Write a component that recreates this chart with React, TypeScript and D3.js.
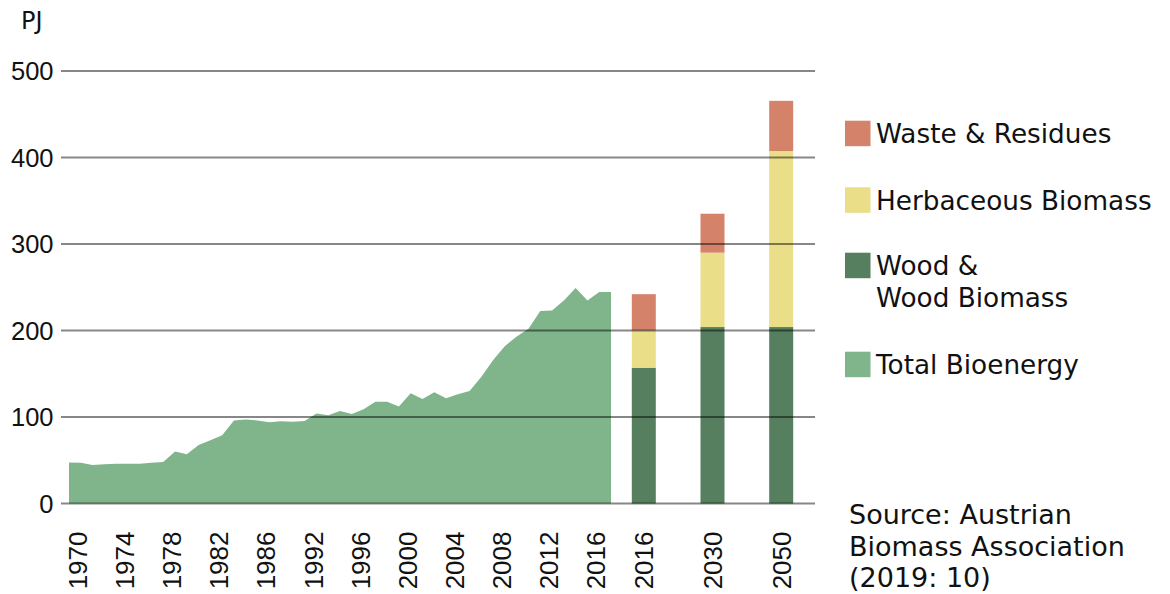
import * as d3 from "d3";

// Total bioenergy, one value per year shown on the area (PJ)
const totalBioenergy = [
  47.5, 47, 44.5, 45.5, 46, 46, 46, 47, 48, 60, 57, 67.5, 73, 79, 96, 97, 96,
  94, 95, 94.5, 95.5, 104, 102, 107, 103.6, 109, 117.5, 117.5, 112, 127.5,
  120.7, 128.7, 121.8, 126.4, 130, 146.6, 166, 182, 193, 202, 222.6, 223,
  234.6, 249, 234.6, 244.6, 244.6,
];

// axis labels under the area, one every 4th point
const areaTickLabels = [
  "1970", "1974", "1978", "1982", "1986", "1992",
  "1996", "2000", "2004", "2008", "2012", "2016",
];

// stacked scenario bars
const barYears = ["2016", "2030", "2050"];
const wood = [157, 204, 204];
const herbaceous = [43, 86, 203.5];
const waste = [42, 45, 58];

const yTicks = [0, 100, 200, 300, 400, 500];

const legendItems = [
  { label: ["Waste & Residues"], color: "#d4836a" },
  { label: ["Herbaceous Biomass"], color: "#eade88" },
  { label: ["Wood &", "Wood Biomass"], color: "#557f5e" },
  { label: ["Total Bioenergy"], color: "#80b48a" },
];

const COLORS = {
  total: "#80b48a",
  wood: "#557f5e",
  herb: "#eade88",
  waste: "#d4836a",
};

const App = () => {
  const width = 1170;
  const height = 594;
  const axisFont = "'Liberation Sans', Arial, sans-serif";
  const textFont = "'DejaVu Sans', sans-serif";

  const y = d3.scaleLinear().domain([0, 500]).range([503.5, 71]);
  const x = d3
    .scaleLinear()
    .domain([0, totalBioenergy.length - 1])
    .range([69, 611]);
  const xBar = d3.scalePoint().domain(barYears).range([643.8, 781.2]);
  const barWidth = 24;

  const area = d3
    .area<number>()
    .x((_, i) => x(i))
    .y0(y(0))
    .y1((d) => y(d));

  const stacks = barYears.map((yr, i) => {
    const w = wood[i];
    const h = herbaceous[i];
    const s = waste[i];
    return [
      { key: "wood", y0: 0, y1: w, color: COLORS.wood },
      { key: "herb", y0: w, y1: w + h, color: COLORS.herb },
      { key: "waste", y0: w + h, y1: w + h + s, color: COLORS.waste },
    ].map((seg) => ({ ...seg, yr }));
  });

  const labelTop = 531.5;

  return (
    <svg
      width={width}
      height={height}
      style={{ position: "absolute", left: 0, top: 0, background: "#fff" }}
    >
      {/* area */}
      <path d={area(totalBioenergy)!} fill={COLORS.total} />

      {/* stacked bars */}
      {stacks.map((segs) =>
        segs.map((seg) => (
          <rect
            key={seg.yr + seg.key}
            x={xBar(seg.yr)! - barWidth / 2}
            y={y(seg.y1)}
            width={barWidth}
            height={y(seg.y0) - y(seg.y1)}
            fill={seg.color}
          />
        ))
      )}

      {/* grid lines, drawn over the marks */}
      {yTicks.map((t) => (
        <line
          key={t}
          x1={61}
          x2={815}
          y1={y(t)}
          y2={y(t)}
          stroke="#000"
          strokeOpacity={0.47}
          strokeWidth={2}
        />
      ))}

      {/* y labels */}
      {yTicks.map((t) => (
        <text
          key={"yl" + t}
          x={53.5}
          y={y(t)}
          dy="0.36em"
          textAnchor="end"
          fontFamily={axisFont}
          fontSize={25.5}
          fill="#111"
        >
          {t}
        </text>
      ))}
      <text x={21} y={29} fontFamily={textFont} fontSize={24} fill="#111">
        PJ
      </text>

      {/* x labels */}
      {areaTickLabels.map((lab, k) => (
        <text
          key={lab + k}
          transform={`translate(${x(k * 4) + 8.5},${labelTop}) rotate(-90)`}
          dy="0.36em"
          textAnchor="end"
          fontFamily={axisFont}
          fontSize={26}
          fill="#111"
        >
          {lab}
        </text>
      ))}
      {barYears.map((lab) => (
        <text
          key={"b" + lab}
          transform={`translate(${xBar(lab)},${labelTop}) rotate(-90)`}
          dy="0.36em"
          textAnchor="end"
          fontFamily={axisFont}
          fontSize={26}
          fill="#111"
        >
          {lab}
        </text>
      ))}

      {/* legend */}
      {legendItems.map((item, i) => {
        const rowY = [120.7, 187.3, 252.7, 351.7][i];
        return (
          <g key={item.label[0]}>
            <rect x={845} y={rowY} width={25.5} height={25.5} fill={item.color} />
            {item.label.map((ln, j) => (
              <text
                key={ln}
                x={876}
                y={rowY + 22.5 + j * 32}
                fontFamily={textFont}
                fontSize={26.3}
                fill="#111"
              >
                {ln}
              </text>
            ))}
          </g>
        );
      })}

      {/* source */}
      {["Source: Austrian", "Biomass Association", "(2019: 10)"].map((ln, i) => (
        <text
          key={ln}
          x={849}
          y={524 + i * 31.5}
          fontFamily={textFont}
          fontSize={27}
          fill="#111"
        >
          {ln}
        </text>
      ))}
    </svg>
  );
};

export default App;
